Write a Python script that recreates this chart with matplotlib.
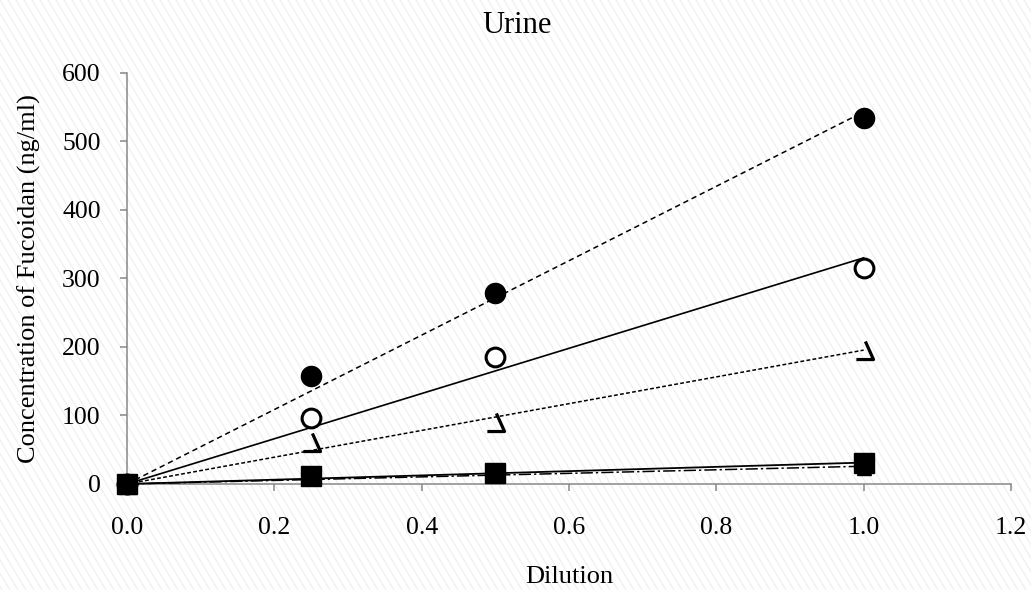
import numpy as np
import matplotlib
matplotlib.use("Agg")
import matplotlib.pyplot as plt
from matplotlib.path import Path

plt.rcParams['font.family'] = ['Liberation Serif', 'DejaVu Serif']

# dilution levels and measured concentrations (ng/ml)
dilution = [0.0, 0.25, 0.5, 1.0]
filled_circle = [0, 158, 279, 534]
open_circle = [0, 97, 186, 316]
wedge = [0, 62, 90, 196]
square = [0, 12, 16, 30]
triangle = [0, 10, 15, 24]

x_ticks = [0.0, 0.2, 0.4, 0.6, 0.8, 1.0, 1.2]
y_ticks = [0, 100, 200, 300, 400, 500, 600]


def trend(x, y):
    # linear trendline forced through the origin
    x = np.asarray(x, float)
    y = np.asarray(y, float)
    slope = np.linalg.lstsq(x[:, None], y, rcond=None)[0][0]
    xs = np.array([0.0, max(x)])
    return xs, slope * xs


wedge_marker = Path([(0.05, 0.5), (0.5, -0.5), (-0.45, -0.5)],
                    [Path.MOVETO, Path.LINETO, Path.LINETO])

fig = plt.figure(figsize=(10.31, 5.90), dpi=100)

# light diagonal hatch over the whole background
bg = fig.add_axes([0, 0, 1, 1], zorder=-1)
bg.set_xlim(0, 1031)
bg.set_ylim(0, 590)
bg.axis('off')
for x0 in np.arange(-400, 1040, 8):
    bg.plot([x0, x0 + 590 * 0.6], [590, 0], color='#efefef', lw=0.9)

ax = fig.add_axes([0.1232, 0.1797, 0.8574, 0.6966])
ax.set_facecolor('none')

gray = '#878787'
lw = 1.1

tx, ty = trend(dilution, triangle)
ax.plot(tx, ty, color='black', lw=lw, ls=(0, (8, 2, 1.5, 2)))
ax.plot(dilution, triangle, ls='none', marker='^', ms=10, color='black')

tx, ty = trend(dilution, square)
ax.plot(tx, ty, color='black', lw=lw + 0.2)
ax.plot(dilution, square, ls='none', marker='s', ms=14, color='black')

tx, ty = trend(dilution, wedge)
ax.plot(tx, ty, color='black', lw=lw, ls=(0, (2.5, 1.5)))
ax.plot(dilution, wedge, ls='none', marker=wedge_marker, ms=13,
        mew=2.3, mec='black', mfc='none')

tx, ty = trend(dilution, open_circle)
ax.plot(tx, ty, color='black', lw=lw + 0.1)
ax.plot(dilution, open_circle, ls='none', marker='o', ms=13.5,
        mew=2.2, mec='black', mfc='white')

tx, ty = trend(dilution, filled_circle)
ax.plot(tx, ty, color='black', lw=lw, ls=(0, (3.5, 2.5)))
ax.plot(dilution, filled_circle, ls='none', marker='o', ms=14.5, color='black')

ax.set_xlim(0, 1.2)
ax.set_ylim(0, 600)
ax.set_xticks(x_ticks)
ax.set_xticklabels([f"{v:.1f}" for v in x_ticks])
ax.set_yticks(y_ticks)
ax.set_yticklabels([str(v) for v in y_ticks])

for side in ('top', 'right'):
    ax.spines[side].set_visible(False)
for side in ('left', 'bottom'):
    ax.spines[side].set_color(gray)
    ax.spines[side].set_linewidth(lw)
    ax.spines[side].set_zorder(0.5)

ax.tick_params(axis='both', direction='out', length=5, width=lw,
               color=gray, labelsize=18.5, labelcolor='black')
ax.tick_params(axis='x', pad=19)
ax.tick_params(axis='y', pad=14)
for t in ax.get_xticklabels() + ax.get_yticklabels():
    t.set_clip_on(False)
for line in ax.lines:
    line.set_clip_on(False)

ax.set_xlabel('Dilution', fontsize=19, va='top')
ax.xaxis.set_label_coords(0.5, -0.2)
ax.set_ylabel('Concentration of Fucoidan (ng/ml)', fontsize=19)
ax.yaxis.set_label_coords(-0.097, 0.5)

fig.text(517 / 1031, 1 - 33 / 590, 'Urine', fontsize=22, ha='center',
         va='baseline')

fig.savefig('out.png', dpi=100)
